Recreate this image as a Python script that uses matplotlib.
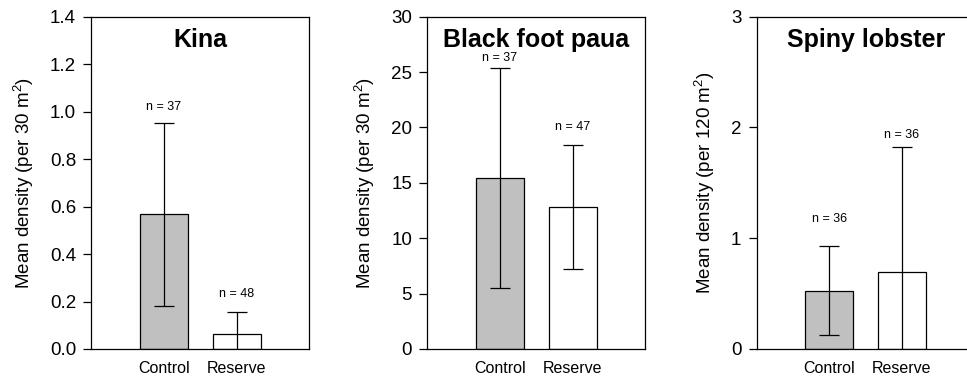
import matplotlib
matplotlib.use("Agg")
import matplotlib.pyplot as plt

plt.rcParams['font.family'] = ['Liberation Sans', 'DejaVu Sans']
plt.rcParams['mathtext.default'] = 'regular'

# -----------------------------------------------------------
# DATA
# -----------------------------------------------------------
groups = ["Control", "Reserve"]
titles = ["Kina", "Black foot paua", "Spiny lobster"]
ylabels = ["Mean density (per 30 m$^2$)",
           "Mean density (per 30 m$^2$)",
           "Mean density (per 120 m$^2$)"]

kina_mean = [0.567, 0.063]
kina_err = [0.387, 0.093]
kina_n = ["n = 37", "n = 48"]
kina_n_y = [1.02, 0.23]

paua_mean = [15.45, 12.82]
paua_err = [9.9, 5.6]
paua_n = ["n = 37", "n = 47"]
paua_n_y = [26.3, 20.06]

lobster_mean = [0.527, 0.692]
lobster_err = [0.405, 1.134]
lobster_n = ["n = 36", "n = 36"]
lobster_n_y = [1.17, 1.93]

ylims = [1.4, 30, 3]
ystep = [0.2, 5, 1]
yfmt = ["{:.1f}", "{:.0f}", "{:.0f}"]

bar_colors = ["#c0c0c0", "white"]

# -----------------------------------------------------------
# FIGURE
# -----------------------------------------------------------
fig = plt.figure(figsize=(9.67, 3.83), dpi=100)
lefts = [0.0945, 0.4419, 0.7825]
bottom, width, height = 0.0888, 0.2254, 0.8676

panels = [
    (kina_mean, kina_err, kina_n, kina_n_y),
    (paua_mean, paua_err, paua_n, paua_n_y),
    (lobster_mean, lobster_err, lobster_n, lobster_n_y),
]

for i, (means, errs, ns, ny) in enumerate(panels):
    ax = fig.add_axes([lefts[i], bottom, width, height])
    x = [1, 2]
    ax.bar(x, means, width=0.66, color=bar_colors, edgecolor="black", linewidth=0.9, zorder=2)
    ax.errorbar(x, means, yerr=errs, fmt="none", ecolor="black", elinewidth=0.9,
                capsize=7, capthick=0.9, zorder=3)
    for xi, lab, yy in zip(x, ns, ny):
        ax.text(xi, yy, lab, ha="center", va="center", fontsize=9)

    ax.set_xlim(0, 3)
    ax.set_ylim(0, ylims[i])
    ticks = [k * ystep[i] for k in range(int(round(ylims[i] / ystep[i])) + 1)]
    ax.set_yticks(ticks)
    ax.set_yticklabels([yfmt[i].format(t) for t in ticks])
    ax.set_xticks(x)
    ax.set_xticklabels(groups)
    ax.tick_params(axis="x", length=0, labelsize=11.5, pad=9)
    ax.tick_params(axis="y", length=6, width=0.9, labelsize=13.5, pad=5)
    for sp in ax.spines.values():
        sp.set_linewidth(0.9)
    ax.set_ylabel(ylabels[i], fontsize=13.5, labelpad=10)
    ax.text(0.5, 0.93, titles[i], transform=ax.transAxes, ha="center", va="center",
            fontsize=18, fontweight="bold")

fig.savefig("out.png", dpi=100)
